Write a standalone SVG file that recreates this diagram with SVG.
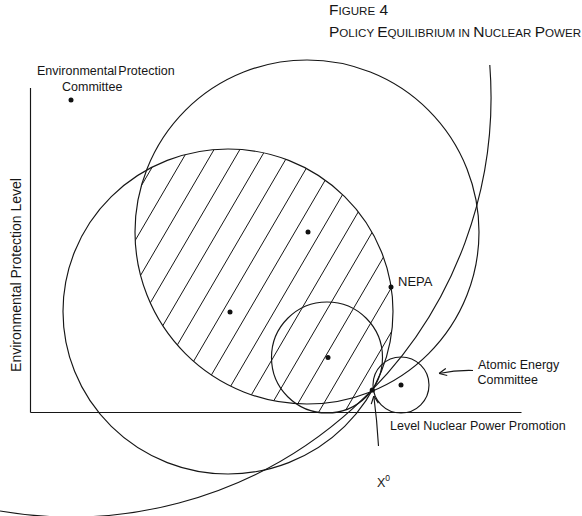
<svg xmlns="http://www.w3.org/2000/svg" width="582" height="516" viewBox="0 0 582 516">
<style>
.ln{fill:none;stroke:#161616;stroke-width:1.15}
.hatch{fill:none;stroke:#161616;stroke-width:1}
.dot{fill:#111}
.lbl{font-family:"Liberation Sans",Arial,sans-serif;font-size:12.5px;fill:#161616}
.ttl{font-family:"Liberation Sans",Arial,sans-serif;fill:#161616}
.big{font-size:15.5px}
.sm{font-size:11.6px}
</style>
<defs>
<clipPath id="clipC2"><ellipse cx="228" cy="311.5" rx="165" ry="162.5"/></clipPath>
<clipPath id="clipC13"><circle cx="307" cy="232" r="172"/><circle cx="327" cy="357.5" r="55.5"/></clipPath>
<marker id="open" viewBox="0 0 10 10" refX="9.5" refY="5" markerWidth="9" markerHeight="9" markerUnits="userSpaceOnUse" orient="auto">
<path d="M1,1 L9.5,5 L1,9" fill="none" stroke="#161616" stroke-width="1.3"/>
</marker>
</defs>
<rect width="582" height="516" fill="#fff"/>

<g id="title">
<text class="ttl" x="329" y="15"><tspan class="big">F</tspan><tspan class="sm">IGURE</tspan><tspan class="big"> 4</tspan></text>
<text class="ttl" x="329" y="37"><tspan class="big">P</tspan><tspan class="sm">OLICY </tspan><tspan class="big">E</tspan><tspan class="sm">QUILIBRIUM IN </tspan><tspan class="big">N</tspan><tspan class="sm">UCLEAR </tspan><tspan class="big">P</tspan><tspan class="sm">OWER</tspan></text>
</g>

<g id="axes">
<line class="ln" x1="30.5" y1="88" x2="30.5" y2="412.5"/>
<line class="ln" x1="30.5" y1="412.5" x2="521.5" y2="412.5"/>
<text class="lbl" text-anchor="middle" transform="translate(21,275) rotate(-90)" style="font-size:14px">Environmental Protection Level</text>
<text class="lbl" x="390" y="429.5">Level Nuclear Power Promotion</text>
</g>

<g id="hatching" clip-path="url(#clipC2)">
<g clip-path="url(#clipC13)">
<path class="hatch" d="M168.04,140 L4.52,420 M193.84,140 L30.32,420 M219.64,140 L56.12,420 M245.44,140 L81.92,420 M271.24,140 L107.72,420 M297.04,140 L133.52,420 M322.84,140 L159.32,420 M348.64,140 L185.12,420 M374.44,140 L210.92,420 M400.24,140 L236.72,420 M426.04,140 L262.52,420 M451.84,140 L288.32,420 M477.64,140 L314.12,420 M503.44,140 L339.92,420 M529.24,140 L365.72,420 M555.04,140 L391.52,420"/>
</g>
</g>

<g id="connectors">
<circle class="ln" cx="307" cy="232" r="172"/>
<ellipse class="ln" cx="228" cy="311.5" rx="165" ry="162.5"/>
<circle class="ln" cx="327" cy="357.5" r="55.5"/>
<circle class="ln" cx="401" cy="385" r="28"/>
<path class="ln" d="M489.8,65 A420,420 0 0 1 0,511"/>
</g>

<g id="node-epc">
<circle class="dot" cx="71" cy="100" r="2.5"/>
<text class="lbl" x="37" y="75" word-spacing="-2">Environmental Protection</text>
<text class="lbl" x="62" y="90.5">Committee</text>
</g>
<g id="node-ideal1"><circle class="dot" cx="308" cy="232" r="2.5"/></g>
<g id="node-ideal2"><circle class="dot" cx="230" cy="312" r="2.5"/></g>
<g id="node-ideal3"><circle class="dot" cx="328" cy="357.5" r="2.5"/></g>
<g id="node-nepa">
<circle class="dot" cx="391" cy="287" r="2.5"/>
<text class="lbl" x="398" y="285.7" style="font-size:13px">NEPA</text>
</g>
<g id="node-aec">
<circle class="dot" cx="401" cy="385" r="2.5"/>
<text class="lbl" x="478" y="369">Atomic Energy</text>
<text class="lbl" x="477.5" y="383.5">Committee</text>
<path class="ln" d="M473,370.5 Q456,370 439,373.5" marker-end="url(#open)"/>
</g>
<g id="node-x0">
<circle class="dot" cx="372.3" cy="390" r="2.6"/>
<text class="lbl" x="377" y="486.5">X<tspan font-size="8.5" dy="-5.5">0</tspan></text>
<path class="ln" d="M378.5,446 Q377,420 373.8,396" marker-end="url(#open)"/>
</g>
</svg>
